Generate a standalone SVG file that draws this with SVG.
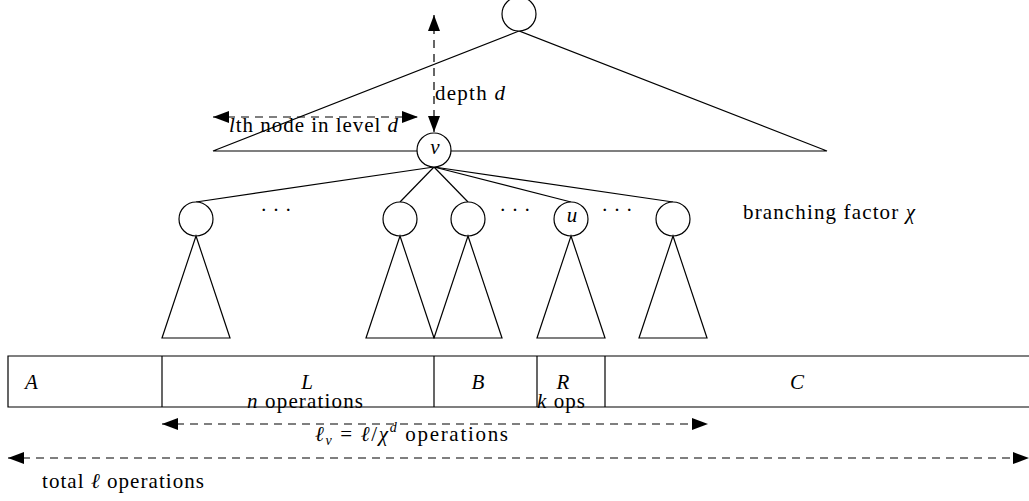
<svg xmlns="http://www.w3.org/2000/svg" width="1029" height="501" viewBox="0 0 1029 501">
<style>
.ln{fill:none;stroke:#000;stroke-width:1.2}
.nd{fill:#fff;stroke:#000;stroke-width:1.2}
.ds{fill:none;stroke:#000;stroke-width:1.2;stroke-dasharray:8 6}
text{font-family:"Liberation Serif","DejaVu Serif",serif;font-size:21px;fill:#000}
.it{font-style:italic}
.mid{text-anchor:middle}
</style>
<defs>
<marker id="ah" markerUnits="userSpaceOnUse" markerWidth="18" markerHeight="12" refX="16" refY="6" orient="auto-start-reverse">
<path d="M0,0 L16,6 L0,12 Z" fill="#000"/>
</marker>
</defs>
<g id="big-tree">
<path class="ln" d="M519,31 L213,151 L827,151 Z"/>
</g>
<g id="connectors">
<line class="ln" x1="434" y1="167" x2="196" y2="202"/>
<line class="ln" x1="434" y1="167" x2="400" y2="202"/>
<line class="ln" x1="434" y1="167" x2="468" y2="202"/>
<line class="ln" x1="434" y1="167" x2="571" y2="202"/>
<line class="ln" x1="434" y1="167" x2="673" y2="202"/>
<line class="ds" x1="434" y1="132" x2="434" y2="15" marker-start="url(#ah)" marker-end="url(#ah)"/>
<line class="ds" x1="213" y1="117" x2="418" y2="117" marker-start="url(#ah)" marker-end="url(#ah)"/>
<line class="ds" x1="162" y1="424" x2="708" y2="424" marker-start="url(#ah)" marker-end="url(#ah)"/>
<line class="ds" x1="8" y1="458" x2="1029" y2="458" marker-start="url(#ah)" marker-end="url(#ah)"/>
</g>
<g id="root"><circle class="nd" cx="519" cy="14" r="17"/></g>
<g id="node-v"><circle class="nd" cx="434" cy="150" r="17"/><text class="it mid" x="435" y="154">v</text></g>
<g id="child-1"><circle class="nd" cx="196" cy="219" r="17"/><path class="ln" d="M196,236 L162,338 L230,338 Z"/></g>
<g id="child-2"><circle class="nd" cx="400" cy="219" r="17"/><path class="ln" d="M400,236 L366,338 L434,338 Z"/></g>
<g id="child-3"><circle class="nd" cx="468" cy="219" r="17"/><path class="ln" d="M468,236 L434,338 L502,338 Z"/></g>
<g id="child-u"><circle class="nd" cx="571" cy="219" r="17"/><path class="ln" d="M571,236 L537,338 L605,338 Z"/><text class="it mid" x="572" y="222">u</text></g>
<g id="child-5"><circle class="nd" cx="673" cy="219" r="17"/><path class="ln" d="M673,236 L639,338 L707,338 Z"/></g>
<g id="dots">
<text class="mid" x="276" y="217">· · ·</text>
<text class="mid" x="515" y="217">· · ·</text>
<text class="mid" x="617" y="217">· · ·</text>
</g>
<g id="labels">
<text x="435" y="100" textLength="70" lengthAdjust="spacing">depth <tspan class="it">d</tspan></text>
<text x="229" y="132" textLength="169" lengthAdjust="spacing"><tspan class="it">l</tspan>th node in level <tspan class="it">d</tspan></text>
<text x="743" y="219" textLength="172" lengthAdjust="spacing">branching factor <tspan class="it">χ</tspan></text>
</g>
<g id="bar">
<path class="ln" d="M1030,356 L8,356 L8,407 L1030,407"/>
<line class="ln" x1="162" y1="356" x2="162" y2="407"/>
<line class="ln" x1="434" y1="356" x2="434" y2="407"/>
<line class="ln" x1="537" y1="356" x2="537" y2="407"/>
<line class="ln" x1="605" y1="356" x2="605" y2="407"/>
<text class="it" x="25" y="389">A</text>
<text class="it mid" x="307" y="389">L</text>
<text x="247" y="408" textLength="116" lengthAdjust="spacing"><tspan class="it">n</tspan> operations</text>
<text class="it mid" x="563" y="389">R</text>
<text class="it mid" x="478" y="389">B</text>
<text x="537" y="408" textLength="48" lengthAdjust="spacing"><tspan class="it">k</tspan> ops</text>
<text class="it mid" x="797" y="389">C</text>
</g>
<g id="bottom-labels">
<text x="315" y="441" textLength="193" lengthAdjust="spacing"><tspan class="it">ℓ<tspan font-size="14" dy="4">v</tspan></tspan><tspan dy="-4"> = </tspan><tspan class="it">ℓ</tspan>/<tspan class="it">χ<tspan font-size="14" dy="-9">d</tspan></tspan><tspan dy="9"> operations</tspan></text>
<text x="42" y="488" textLength="162" lengthAdjust="spacing">total <tspan class="it">ℓ</tspan> operations</text>
</g>
</svg>
